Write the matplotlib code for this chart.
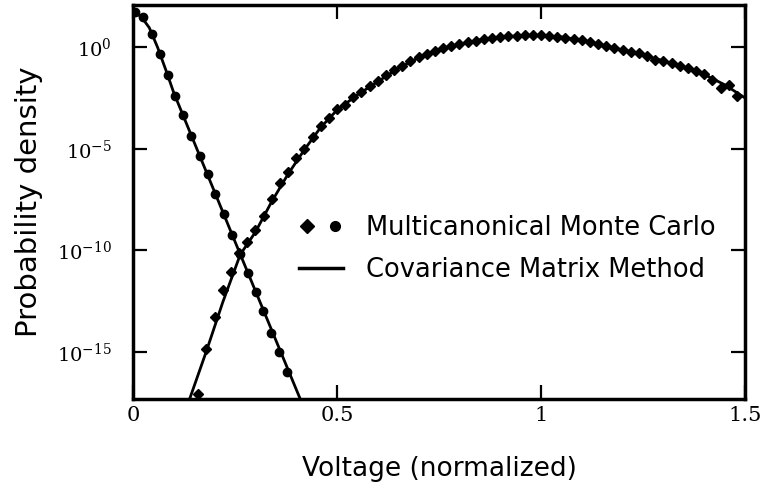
import numpy as np
import matplotlib
matplotlib.use("Agg")
import matplotlib.pyplot as plt
from matplotlib.lines import Line2D
from matplotlib.legend_handler import HandlerTuple

# ---- data (log10 of probability density) ----
# Covariance matrix method, "0" curve (descending)
cmm0_x = [0.0, 0.02, 0.04, 0.06, 0.08, 0.10, 0.263, 0.42]
cmm0_log = [1.75, 1.5, 0.95, 0.0, -1.1, -2.25, -10.2, -17.8]
# Covariance matrix method, "1" curve (rising)
cmm1_x = [0.132, 0.18, 0.22, 0.263, 0.30, 0.34, 0.38, 0.42, 0.46, 0.50, 0.55, 0.60,
          0.65, 0.70, 0.75, 0.80, 0.85, 0.90, 0.95, 1.00, 1.05, 1.10, 1.15, 1.20,
          1.25, 1.30, 1.35, 1.40, 1.45, 1.50]
cmm1_log = [-17.7, -14.95, -12.55, -10.2, -9.1, -7.6, -6.25, -5.05, -3.95, -3.1, -2.35, -1.7,
            -1.05, -0.52, -0.14, 0.14, 0.35, 0.49, 0.56, 0.57, 0.5, 0.33, 0.1, -0.14,
            -0.38, -0.68, -1.0, -1.35, -1.85, -2.5]
# Multicanonical Monte Carlo, "0" (circles)
mmc0_x = [0.005, 0.024, 0.046, 0.066, 0.085, 0.103, 0.123, 0.142, 0.164, 0.183,
          0.201, 0.222, 0.242, 0.263, 0.281, 0.301, 0.319, 0.338, 0.358, 0.378]
mmc0_log = [1.74, 1.46, 0.63, -0.36, -1.38, -2.40, -3.35, -4.37, -5.35, -6.22,
            -7.24, -8.23, -9.23, -10.16, -11.1, -12.05, -13.0, -14.05, -15.0, -16.0]
# Multicanonical Monte Carlo, "1" (diamonds)
mmc1_x = [0.16, 0.18, 0.20, 0.22, 0.24, 0.26, 0.28, 0.30, 0.32, 0.34, 0.36, 0.38,
          0.40, 0.42, 0.44, 0.46, 0.48, 0.50, 0.52, 0.54, 0.56, 0.58, 0.60, 0.62,
          0.64, 0.66, 0.68, 0.70, 0.72, 0.74, 0.76, 0.78, 0.80, 0.82, 0.84, 0.86,
          0.88, 0.90, 0.92, 0.94, 0.96, 0.98, 1.00, 1.02, 1.04, 1.06, 1.08, 1.10,
          1.12, 1.14, 1.16, 1.18, 1.20, 1.22, 1.24, 1.26, 1.28, 1.30, 1.32, 1.34,
          1.36, 1.38, 1.40, 1.42, 1.44, 1.46, 1.48]
mmc1_log = [-17.06, -14.84, -13.28, -11.95, -11.07, -10.15, -9.6, -9.0, -8.3, -7.45, -6.7, -6.15,
            -5.45, -5.0, -4.42, -3.9, -3.5, -3.05, -2.85, -2.45, -2.2, -1.92, -1.68, -1.35,
            -1.12, -0.92, -0.7, -0.5, -0.35, -0.2, -0.05, 0.07, 0.15, 0.24, 0.32, 0.4,
            0.46, 0.5, 0.53, 0.56, 0.58, 0.58, 0.57, 0.55, 0.5, 0.47, 0.38, 0.33,
            0.23, 0.15, 0.04, -0.05, -0.14, -0.22, -0.3, -0.45, -0.62, -0.7, -0.8, -0.95,
            -1.05, -1.2, -1.3, -1.6, -2.0, -1.88, -2.4]

xticks = [0, 0.5, 1, 1.5]
xticklabels = ["0", "0.5", "1", "1.5"]
yticks_exp = [0, -5, -10, -15]
legend_labels = ["Multicanonical Monte Carlo", "Covariance Matrix Method"]
xlabel = "Voltage (normalized)"
ylabel = "Probability density"

plt.rcParams["mathtext.fontset"] = "dejavuserif"

fig = plt.figure(figsize=(7.63, 4.93), dpi=100)
ax = fig.add_axes([133 / 763, 1 - 399 / 493, 612 / 763, 394 / 493])

lw = 2.0
ax.plot(cmm0_x, 10.0 ** np.array(cmm0_log), color="black", lw=lw)
ax.plot(cmm1_x, 10.0 ** np.array(cmm1_log), color="black", lw=lw)
ax.plot(mmc0_x, 10.0 ** np.array(mmc0_log), linestyle="none", marker="o",
        ms=6, color="black")
ax.plot(mmc1_x, 10.0 ** np.array(mmc1_log), linestyle="none", marker="D",
        ms=5.5, color="black")

ax.set_yscale("log")
ax.set_xlim(0, 1.5)
ax.set_ylim(10 ** -17.31, 10 ** 2.07)

ax.set_xticks(xticks)
ax.set_xticklabels(xticklabels, fontfamily="DejaVu Serif", fontsize=15)
ax.set_yticks([10.0 ** e for e in yticks_exp])
ax.set_yticklabels([r"$10^{%d}$" % e for e in yticks_exp], fontsize=14)
ax.yaxis.set_minor_locator(matplotlib.ticker.NullLocator())
ax.tick_params(axis="both", which="major", direction="in", length=10, width=1.6,
               top=True, right=True, colors="black")
ax.tick_params(axis="x", pad=5)
ax.tick_params(axis="y", pad=15)

for s in ax.spines.values():
    s.set_linewidth(2.5)

ax.set_xlabel(xlabel, fontfamily="DejaVu Sans", fontsize=19, labelpad=22)
ax.set_ylabel(ylabel, fontfamily="DejaVu Sans", fontsize=21, labelpad=10)

h_mmc = (Line2D([], [], ls="none", marker="D", ms=7, color="black"),
         Line2D([], [], ls="none", marker="o", ms=7, color="black"))
h_cmm = Line2D([], [], color="black", lw=2.5)
leg = ax.legend([h_mmc, h_cmm], legend_labels,
                handler_map={tuple: HandlerTuple(ndivide=None, pad=0.47)},
                loc="center left", bbox_to_anchor=(0.271, 0.381),
                frameon=False, prop={"family": "DejaVu Sans", "size": 18.5},
                handlelength=1.71, handletextpad=0.9, labelspacing=0.63,
                borderpad=0, borderaxespad=0)

fig.savefig("out.png", dpi=100)
